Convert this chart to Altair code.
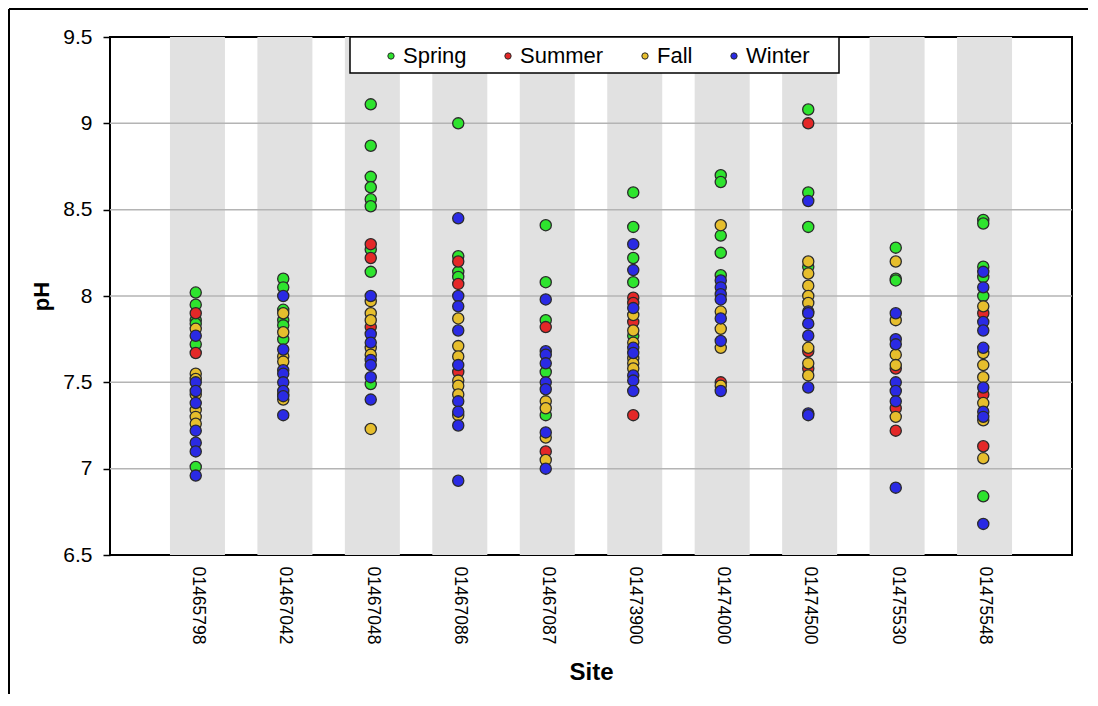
import altair as alt
import pandas as pd

sites = ["01465798", "01467042", "01467048", "01467086", "01467087",
         "01473900", "01474000", "01474500", "01475530", "01475548"]
seasons = ["Spring", "Summer", "Fall", "Winter"]
season_colors = ["#2ee42e", "#e42828", "#e6be2d", "#2a2ae4"]
y_ticks = [6.5, 7.0, 7.5, 8.0, 8.5, 9.0, 9.5]

spring_ph = [
    [8.02, 7.95, 7.86, 7.84, 7.72, 7.01],
    [8.10, 8.05, 7.92, 7.86, 7.83, 7.75],
    [9.11, 8.87, 8.69, 8.63, 8.56, 8.52, 8.27, 8.14, 7.49],
    [9.00, 8.23, 8.14, 8.11],
    [8.41, 8.08, 7.86, 7.56, 7.31],
    [8.60, 8.40, 8.22, 8.08, 7.77],
    [8.70, 8.66, 8.35, 8.25, 8.12],
    [9.08, 8.60, 8.40, 8.17],
    [8.28, 8.10, 8.09],
    [8.44, 8.42, 8.17, 8.11, 8.00, 6.84],
]
summer_ph = [
    [7.90, 7.67],
    [],
    [8.30, 8.22, 7.82],
    [8.20, 8.07, 7.56],
    [7.82, 7.10],
    [7.99, 7.96, 7.85, 7.31],
    [7.50],
    [9.00, 7.68, 7.58],
    [7.58, 7.35, 7.22],
    [7.90, 7.43, 7.13],
]
fall_ph = [
    [7.81, 7.55, 7.52, 7.43, 7.34, 7.30, 7.26],
    [7.90, 7.79, 7.65, 7.62, 7.43, 7.40],
    [7.97, 7.90, 7.86, 7.70, 7.66, 7.23],
    [7.87, 7.71, 7.65, 7.51, 7.48, 7.43, 7.31],
    [7.39, 7.35, 7.18, 7.05],
    [7.89, 7.80, 7.73, 7.64, 7.61, 7.58],
    [8.41, 7.91, 7.81, 7.70, 7.48],
    [8.20, 8.13, 8.06, 8.00, 7.96, 7.70, 7.61, 7.54],
    [8.20, 7.86, 7.66, 7.60, 7.30],
    [7.94, 7.67, 7.60, 7.53, 7.38, 7.28, 7.06],
]
winter_ph = [
    [7.77, 7.50, 7.45, 7.38, 7.22, 7.15, 7.10, 6.96],
    [8.00, 7.69, 7.57, 7.55, 7.50, 7.45, 7.42, 7.31],
    [8.00, 7.78, 7.73, 7.63, 7.60, 7.53, 7.40],
    [8.45, 8.00, 7.94, 7.80, 7.60, 7.39, 7.33, 7.25, 6.93],
    [7.98, 7.68, 7.66, 7.61, 7.50, 7.46, 7.21, 7.00],
    [8.30, 8.15, 7.93, 7.70, 7.67, 7.54, 7.51, 7.45],
    [8.09, 8.05, 8.01, 7.98, 7.87, 7.74, 7.45],
    [8.55, 7.91, 7.90, 7.84, 7.77, 7.47, 7.32, 7.31],
    [7.90, 7.75, 7.72, 7.50, 7.45, 7.39, 6.89],
    [8.14, 8.05, 7.85, 7.80, 7.70, 7.47, 7.33, 7.30, 6.68],
]

rows = []
for season, table in zip(seasons, [spring_ph, summer_ph, fall_ph, winter_ph]):
    for site, vals in zip(sites, table):
        for v in vals:
            rows.append({"site": site, "season": season, "pH": v})
points_df = pd.DataFrame(rows)
sites_df = pd.DataFrame({"site": sites})
grid_df = pd.DataFrame({"v": y_ticks[1:-1]})

FONT = "Liberation Sans"

band_scale = alt.Scale(type="point", domain=sites, padding=1.043)
dot_scale = alt.Scale(type="point", domain=sites, padding=0.997)
y_scale = alt.Scale(domain=[6.5, 9.5], nice=False, zero=False)

x_axis = alt.Axis(labelAngle=90, ticks=False, domain=False, grid=False,
                  labelFontSize=17.5, labelPadding=11, labelColor="black",
                  title="Site", titleFontSize=24, titleFontWeight="bold",
                  titlePadding=17, titleColor="black", labelFont=FONT, titleFont=FONT)
y_axis = alt.Axis(values=y_ticks, format=".1~f", tickSize=7, tickColor="black",
                  tickWidth=1.5, domain=False, grid=False, labelFontSize=21,
                  labelPadding=11, labelColor="black", title="pH",
                  titleFontSize=22, titleFontWeight="bold", titlePadding=9,
                  titleColor="black", labelFont=FONT, titleFont=FONT)

one = pd.DataFrame({"k": [0]})
frame_left = alt.Chart(one).mark_rule(color="black", strokeWidth=2).encode(
    x=alt.value(-101), y=alt.value(-28), y2=alt.value(800))
frame_top = alt.Chart(one).mark_rule(color="black", strokeWidth=2).encode(
    x=alt.value(-101), x2=alt.value(1200), y=alt.value(-28))

legend_box = alt.Chart(one).mark_rect(
    fill="white", stroke="black", strokeWidth=1.5
).encode(x=alt.value(240), x2=alt.value(729), y=alt.value(0), y2=alt.value(36))

bands = alt.Chart(sites_df).mark_bar(size=55, color="#e1e1e1").encode(
    x=alt.X("site:N", scale=band_scale, axis=x_axis, sort=sites),
    y=alt.Y(datum=9.5, scale=y_scale, axis=y_axis),
    y2=alt.datum(6.5),
)

grid = alt.Chart(grid_df).mark_rule(color="#b4b4b4", strokeWidth=1.5).encode(
    y=alt.Y("v:Q", scale=y_scale, axis=y_axis)
)

pts = alt.Chart(points_df).mark_circle(
    size=125, opacity=1, stroke="#2b2b2b", strokeWidth=1.3
).encode(
    x=alt.X("site:N", scale=dot_scale, axis=None, sort=sites),
    xOffset=alt.value(-1.5),
    y=alt.Y("pH:Q", scale=y_scale, axis=y_axis),
    color=alt.Color("season:N", scale=alt.Scale(domain=seasons, range=season_colors),
                    legend=alt.Legend(title=None, orient="none", legendX=270, legendY=8,
                                      direction="horizontal", padding=0,
                                      labelFontSize=22, labelFont=FONT, labelColor="black",
                                      symbolType="circle", symbolSize=40,
                                      symbolStrokeColor="#2b2b2b", symbolStrokeWidth=1,
                                      symbolOpacity=1, labelOffset=1, columnPadding=30)),
)

chart = alt.layer(frame_left, frame_top, bands, grid, pts, legend_box).resolve_scale(
    x="independent"
).properties(
    width=962, height=518,
    autosize=alt.AutoSizeParams(type="none"),
    padding={"left": 102, "top": 29, "right": 16, "bottom": 139},
).configure(background="white").configure_view(stroke="black", strokeWidth=2)

chart.save("out.html", embed_options={"renderer": "svg", "actions": False})
